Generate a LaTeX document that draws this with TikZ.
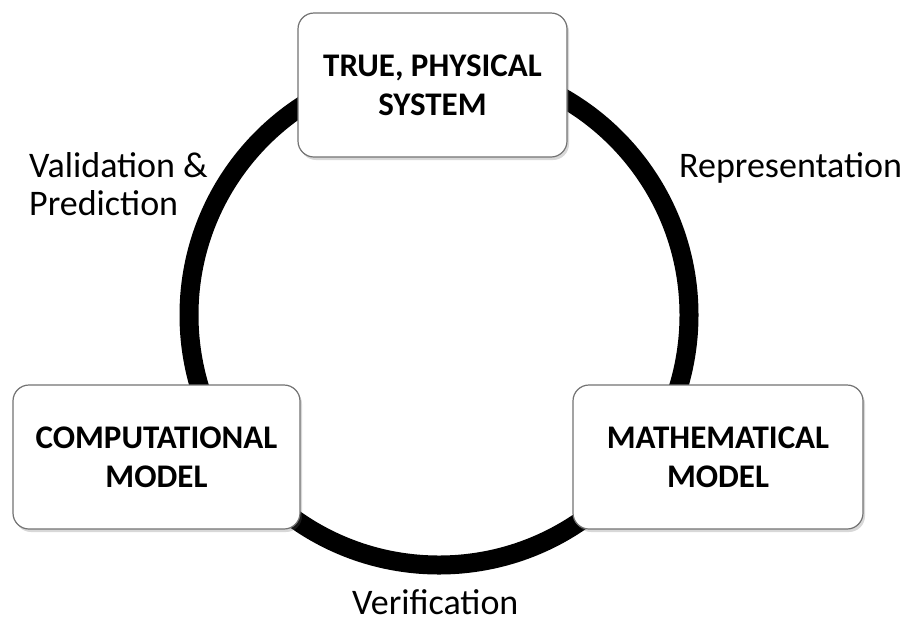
\documentclass[tikz,border=0pt]{standalone}
\usepackage{fontspec}
\setmainfont{Carlito}
\usetikzlibrary{shadows}
\begin{document}
\begin{tikzpicture}[x=1pt,y=-1pt,
  box/.style={draw=black!55, line width=1.2pt, fill=white, rounded corners=16pt,
    inner sep=0pt, align=center, font=\fontsize{33}{39}\selectfont\bfseries,
    drop shadow={shadow xshift=2pt, shadow yshift=-3pt, opacity=0.25, fill=black!60}},
  lbl/.style={inner sep=0pt, font=\fontsize{36}{38}\selectfont},
  ring/.style={line width=19pt, draw=black}]
\useasboundingbox[fill=white] (0,0) rectangle (907,622);
\coordinate (c) at (439,315);
\draw[ring] (c) circle[radius=250];
\node[box, minimum width=269pt, minimum height=144pt] (tps) at (432.5,85) {TRUE, PHYSICAL\\SYSTEM};
\node[box, minimum width=287pt, minimum height=144pt] (cm) at (156.5,457) {COMPUTATIONAL\\MODEL};
\node[box, minimum width=290pt, minimum height=144pt] (mm) at (718,457) {MATHEMATICAL\\MODEL};
\node[lbl, align=left, anchor=base west] (vp) at (29,215) {Validation \&\\Prediction};
\node[lbl, anchor=base west] (rep) at (679,177) {Representation};
\node[lbl, anchor=base west] (ver) at (352,614) {Verification};
\end{tikzpicture}
\end{document}
